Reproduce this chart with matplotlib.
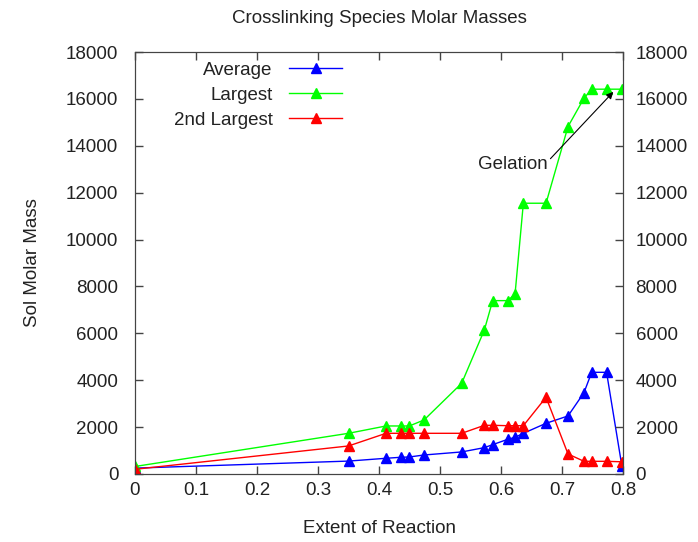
import matplotlib.pyplot as plt

plt.rcParams['font.family'] = ['Liberation Sans', 'DejaVu Sans']

# Extent of reaction (shared x values)
extent = [0.0, 0.35, 0.4115, 0.4355, 0.4497, 0.4738, 0.5355, 0.5727, 0.5863,
          0.611, 0.623, 0.6366, 0.6738, 0.7098, 0.736, 0.7486, 0.773, 0.798]

# Molar masses
average = [250, 550, 670, 712, 725, 810, 940, 1124, 1251,
           1479, 1564, 1735, 2162, 2475, 3470, 4337, 4337, 355]
largest = [320, 1735, 2048, 2048, 2048, 2304, 3868, 6144, 7395,
           7395, 7680, 11550, 11550, 14820, 16030, 16415, 16415, 16415]
second = [200, 1195, 1735, 1735, 1735, 1735, 1735, 2076, 2076,
          2060, 2060, 2060, 3272, 853, 540, 540, 540, 520]

yticks = list(range(0, 18001, 2000))
xticks = [0, 0.1, 0.2, 0.3, 0.4, 0.5, 0.6, 0.7, 0.8]

text_col = '#222222'
axis_col = '#444444'
fs = 13.5

fig = plt.figure(figsize=(6.98, 5.42), dpi=100)
ax = fig.add_axes([0.1934, 0.1255, 0.6992, 0.7785])

ax.plot(extent, average, color='blue', marker='^', markersize=7, lw=1, label='Average')
ax.plot(extent, largest, color='#00ff00', marker='^', markersize=7, lw=1, label='Largest')
ax.plot(extent, second, color='red', marker='^', markersize=7, lw=1, label='2nd Largest')

ax.set_xlim(0, 0.8)
ax.set_ylim(0, 18000)
ax.set_xticks(xticks)
ax.set_xticklabels(['0', '0.1', '0.2', '0.3', '0.4', '0.5', '0.6', '0.7', '0.8'])
ax.set_yticks(yticks)
ax.tick_params(direction='in', length=6, width=1, color=axis_col, labelsize=fs,
               labelcolor=text_col, top=True)
ax.tick_params(axis='y', pad=12)
ax.tick_params(axis='x', pad=6)
for s in ax.spines.values():
    s.set_color(axis_col)

ax2 = ax.twinx()
ax2.set_ylim(0, 18000)
ax2.set_yticks(yticks)
ax2.tick_params(direction='in', length=6, width=1, color=axis_col, labelsize=fs,
                labelcolor=text_col, pad=9)
for s in ax2.spines.values():
    s.set_color(axis_col)

ax.set_title('Crosslinking Species Molar Masses', fontsize=fs, color=text_col, pad=21)
ax.set_xlabel('Extent of Reaction', fontsize=fs, color=text_col, labelpad=15)
ax.set_ylabel('Sol Molar Mass', fontsize=fs, color=text_col, labelpad=18)

ax.text(0.677, 13200, 'Gelation', ha='right', va='center', fontsize=fs, color=text_col)
ax.annotate('', xy=(0.784, 16300), xytext=(0.681, 13450),
            arrowprops=dict(arrowstyle='-|>', color='black', lw=0.8,
                            shrinkA=0, shrinkB=0, mutation_scale=10))

ax.legend(loc='upper right', frameon=False, markerfirst=False, fontsize=fs,
          handlelength=2.8, handletextpad=0.9, labelspacing=0.42,
          borderpad=0, borderaxespad=0,
          bbox_to_anchor=(0.424, 0.977), labelcolor=text_col)

fig.savefig('out.png', dpi=100)
